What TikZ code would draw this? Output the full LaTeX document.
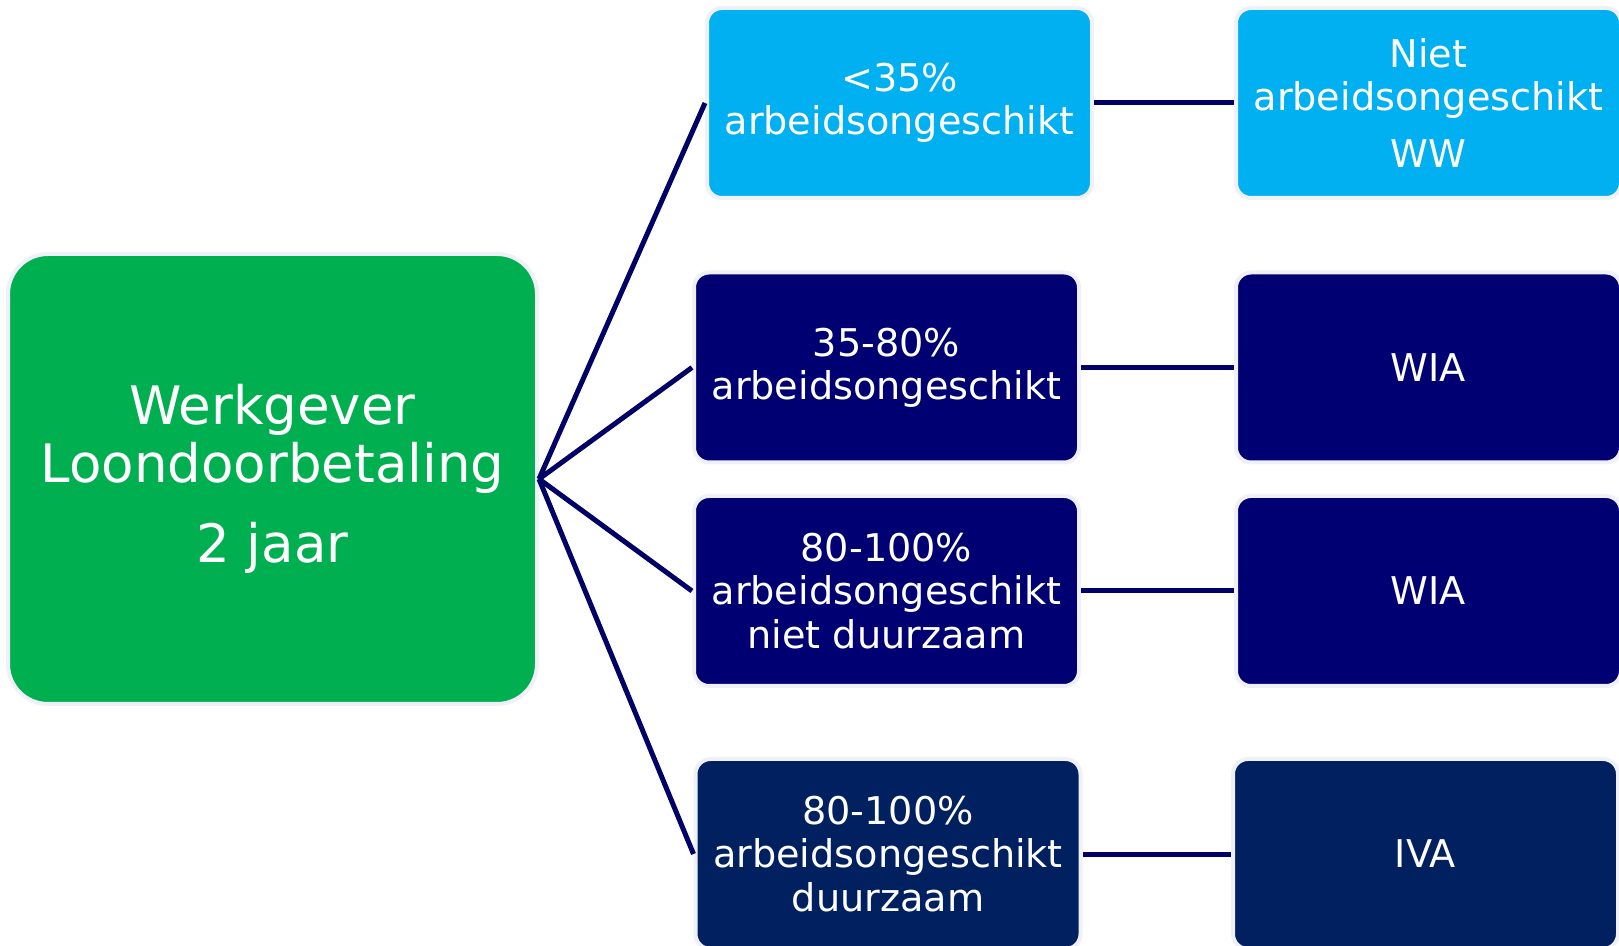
\documentclass[tikz,border=0pt]{standalone}
\usepackage{fontspec}
\setmainfont{DejaVu Sans}
\usetikzlibrary{positioning}
\definecolor{uwvgreen}{HTML}{00B050}
\definecolor{uwvlight}{HTML}{00B0F0}
\definecolor{uwvnavy}{HTML}{000072}
\definecolor{uwvdark}{HTML}{002060}
\definecolor{uwvline}{HTML}{000066}
\definecolor{uwvrim}{HTML}{F0F0F8}

\begin{document}
\begin{tikzpicture}[
  x=0.5pt, y=-0.5pt,
  box/.style={draw=uwvrim, line width=2pt, rounded corners=7.5pt, inner sep=0pt, minimum width=192.5pt, minimum height=95pt, align=center, text=white, font=\fontsize{19.1}{21.7}\selectfont},
  start/.style={box, fill=uwvgreen, rounded corners=20pt, minimum width=264.5pt, minimum height=225pt, font=\fontsize{26.5}{29}\selectfont},
  line/.style={draw=uwvline, line width=2.5pt}
]
\useasboundingbox (0,0) rectangle (1619,946);

\node[start] (werkgever) at (272.5,479) {Werkgever\\Loondoorbetaling\\[11pt]2 jaar};

\node[box, fill=uwvlight] (lt35)  at (899.5,103) {<35\%\\arbeidsongeschikt};
\node[box, fill=uwvnavy] (mid)    at (886.5,367.5) {35-80\%\\arbeidsongeschikt};
\node[box, fill=uwvnavy] (hightmp) at (886.5,591) {80-100\%\\arbeidsongeschikt\\niet duurzaam};
\node[box, fill=uwvdark] (highdur) at (888,854) {80-100\%\\arbeidsongeschikt\\duurzaam};

\node[box, fill=uwvlight] (ww)   at (1428.5,103) {Niet\\arbeidsongeschikt\\[6.7pt]WW};
\node[box, fill=uwvnavy] (wia1)  at (1428.5,367.5) {WIA};
\node[box, fill=uwvnavy] (wia2)  at (1428.5,591) {WIA};
\node[box, fill=uwvdark] (iva)   at (1425.5,854) {IVA};

\draw[line] (werkgever.east) -- (lt35.west);
\draw[line] (werkgever.east) -- (mid.west);
\draw[line] (werkgever.east) -- (hightmp.west);
\draw[line] (werkgever.east) -- (highdur.west);

\draw[line] (lt35) -- (ww);
\draw[line] (mid) -- (wia1);
\draw[line] (hightmp) -- (wia2);
\draw[line] (highdur) -- (iva);
\end{tikzpicture}
\end{document}
